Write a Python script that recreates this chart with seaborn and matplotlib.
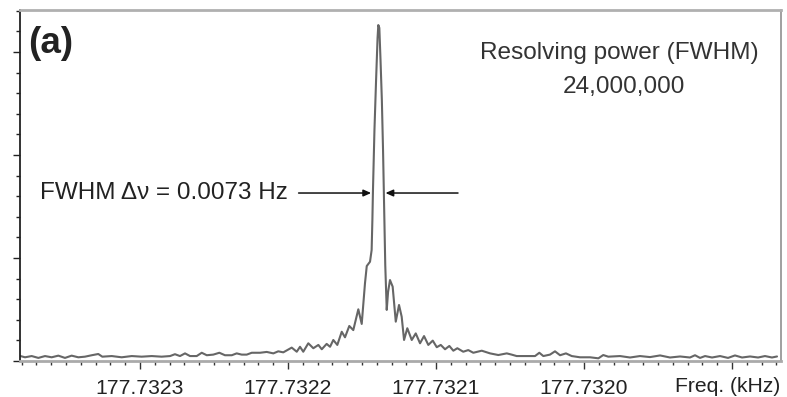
import matplotlib
matplotlib.use("Agg")
import matplotlib.pyplot as plt
from matplotlib.ticker import MultipleLocator, FixedLocator
import seaborn as sns
import pandas as pd
import numpy as np

# Frequency offset from 177.7320 kHz, in mHz
freq_mhz = [380.8, 377.7, 373.2, 368.7, 364.2, 359.7, 355.2, 350.7, 346.2, 341.7,
            337.2, 332.6, 328.2, 325.5, 319.1, 312.4, 305.6, 298.9, 292.1, 285.4,
            279.7, 276.4, 273.0, 269.6, 266.2, 261.7, 258.3, 254.9, 250.5, 246.4,
            242.6, 238.0, 234.7, 231.3, 227.9, 224.5, 218.9, 214.4, 209.9, 206.6,
            203.2, 197.5, 194.1, 191.9, 189.7, 186.3, 182.9, 179.5, 177.2, 173.9,
            171.6, 169.4, 166.7, 163.7, 161.5, 158.6, 155.9, 152.5, 150.2, 148.0,
            146.8, 144.6, 143.5, 143.0, 142.6, 141.6, 140.5, 139.5, 139.0, 138.3,
            137.5, 136.6, 135.8, 135.3, 134.8, 134.3, 133.3, 132.4, 131.1, 129.3,
            127.2, 125.0, 123.2, 121.6, 119.4, 116.4, 113.7, 110.8, 108.1, 105.2,
            102.2, 99.5, 96.8, 93.9, 91.0, 88.3, 85.6, 81.6, 78.2, 74.8,
            69.1, 63.5, 57.9, 52.2, 48.9, 45.5, 38.7, 33.1, 30.2, 27.5,
            23.0, 19.6, 16.2, 12.2, 8.3, 2.7, -4.1, -9.7, -13.0, -16.4,
            -24.3, -31.1, -37.8, -44.6, -51.4, -58.1, -64.9, -71.6, -75.0, -78.4,
            -81.8, -86.5, -91.9, -97.3, -102.0, -106.8, -112.2, -117.6, -122.3, -127.0,
            -130.4]

intensity = [0.24, 0.18, 0.24, 0.15, 0.24, 0.18, 0.26, 0.15, 0.26, 0.18,
             0.21, 0.28, 0.34, 0.21, 0.24, 0.18, 0.24, 0.21, 0.24, 0.21,
             0.24, 0.33, 0.24, 0.37, 0.24, 0.24, 0.40, 0.28, 0.31, 0.40,
             0.28, 0.28, 0.37, 0.31, 0.31, 0.40, 0.40, 0.44, 0.37, 0.47,
             0.42, 0.65, 0.45, 0.69, 0.45, 0.86, 0.62, 0.78, 0.57, 0.83,
             0.69, 1.02, 0.78, 1.42, 1.15, 1.70, 1.50, 2.51, 1.80, 3.77,
             4.61, 4.82, 5.39, 6.84, 8.30, 11.21, 13.64, 15.68, 16.31, 16.17,
             14.61, 12.67, 10.24, 8.30, 6.36, 4.66, 2.48, 3.35, 3.93, 3.61,
             1.91, 2.72, 2.15, 1.02, 1.59, 1.02, 1.34, 0.86, 1.21, 0.78,
             0.99, 0.67, 0.78, 0.57, 0.73, 0.50, 0.62, 0.45, 0.53, 0.40,
             0.50, 0.37, 0.29, 0.37, 0.31, 0.24, 0.24, 0.24, 0.40, 0.24,
             0.31, 0.47, 0.28, 0.37, 0.24, 0.18, 0.18, 0.13, 0.29, 0.21,
             0.24, 0.17, 0.24, 0.19, 0.27, 0.17, 0.22, 0.17, 0.28, 0.15,
             0.24, 0.17, 0.24, 0.15, 0.27, 0.17, 0.22, 0.17, 0.24, 0.17,
             0.22]

x_major_ticks = [300, 200, 100, 0, -100]
x_tick_labels = ["177.7323", "177.7322", "177.7321", "177.7320", ""]
fwhm_mhz = 7.3
fwhm_text = "FWHM \u0394\u03bd = 0.0073 Hz"
rp_line1 = "Resolving power (FWHM)"
rp_line2 = "24,000,000"

sns.set_style("white")
plt.rcParams["font.family"] = ["Liberation Sans", "DejaVu Sans"]

fig = plt.figure(figsize=(7.87, 3.97), dpi=100)
ax = fig.add_axes([20 / 787, 36 / 397, 761 / 787, 351 / 397])

df = pd.DataFrame({"freq": freq_mhz, "intensity": intensity})
sns.lineplot(data=df, x="freq", y="intensity", ax=ax, color="#666666",
             linewidth=1.5, estimator=None, sort=False)

ax.set_xlim(381.1, -133.1)
ax.set_ylim(0, 17.04)
ax.set_xlabel("")
ax.set_ylabel("")

ax.xaxis.set_major_locator(FixedLocator(x_major_ticks))
ax.xaxis.set_minor_locator(MultipleLocator(10))
ax.set_xticklabels(x_tick_labels)
ax.yaxis.set_major_locator(MultipleLocator(5))
ax.yaxis.set_minor_locator(MultipleLocator(1))
ax.set_yticklabels([])

ax.tick_params(axis="x", which="major", direction="out", length=6, width=1,
               color="#333333", labelsize=15.2, pad=7, bottom=True, labelcolor="#222222")
ax.tick_params(axis="x", which="minor", direction="out", length=3, width=1,
               color="#333333", bottom=True)
ax.tick_params(axis="y", which="major", direction="out", length=5, width=1,
               color="#222222", left=True)
ax.tick_params(axis="y", which="minor", direction="out", length=3, width=1,
               color="#222222", left=True)

ax.spines["left"].set_color("#222222")
ax.spines["left"].set_linewidth(1.3)
ax.spines["bottom"].set_color("#aaaaaa")
ax.spines["bottom"].set_linewidth(2.0)
ax.spines["top"].set_color("#b0b0b0")
ax.spines["top"].set_linewidth(2.0)
ax.spines["right"].set_color("#999999")
ax.spines["right"].set_linewidth(1.3)

# Labels
ax.text(0.0105, 0.955, "(a)", transform=ax.transAxes, fontsize=26.5,
        fontweight="bold", color="#222222", ha="left", va="top")
ax.text(0.787, 0.878, rp_line1, transform=ax.transAxes, fontsize=17.6,
        color="#333333", ha="center", va="center")
ax.text(0.793, 0.781, rp_line2, transform=ax.transAxes, fontsize=17.6,
        color="#333333", ha="center", va="center")
fig.text(780 / 787, 1 - 386 / 397, "Freq. (kHz)", fontsize=15.2, color="#222222",
         ha="right", va="center")

# FWHM arrows derived from the peak
imax = int(np.argmax(intensity))
f0 = freq_mhz[imax]
half = intensity[imax] / 2
gap = 1.2
left_tip = f0 + fwhm_mhz / 2 + gap
right_tip = f0 - fwhm_mhz / 2 - gap
arrow_len = 49
ap = dict(arrowstyle="-|>,head_length=0.45,head_width=0.2", color="#111111",
          lw=1.1, shrinkA=0, shrinkB=0)
ax.annotate("", xy=(left_tip, half), xytext=(left_tip + arrow_len, half), arrowprops=ap)
ax.annotate("", xy=(right_tip, half), xytext=(right_tip - arrow_len, half), arrowprops=ap)
ax.text(left_tip + arrow_len + 7.5, half, fwhm_text, fontsize=17.5, color="#222222",
        ha="right", va="center")

fig.savefig("out.png", dpi=100, facecolor="white")
